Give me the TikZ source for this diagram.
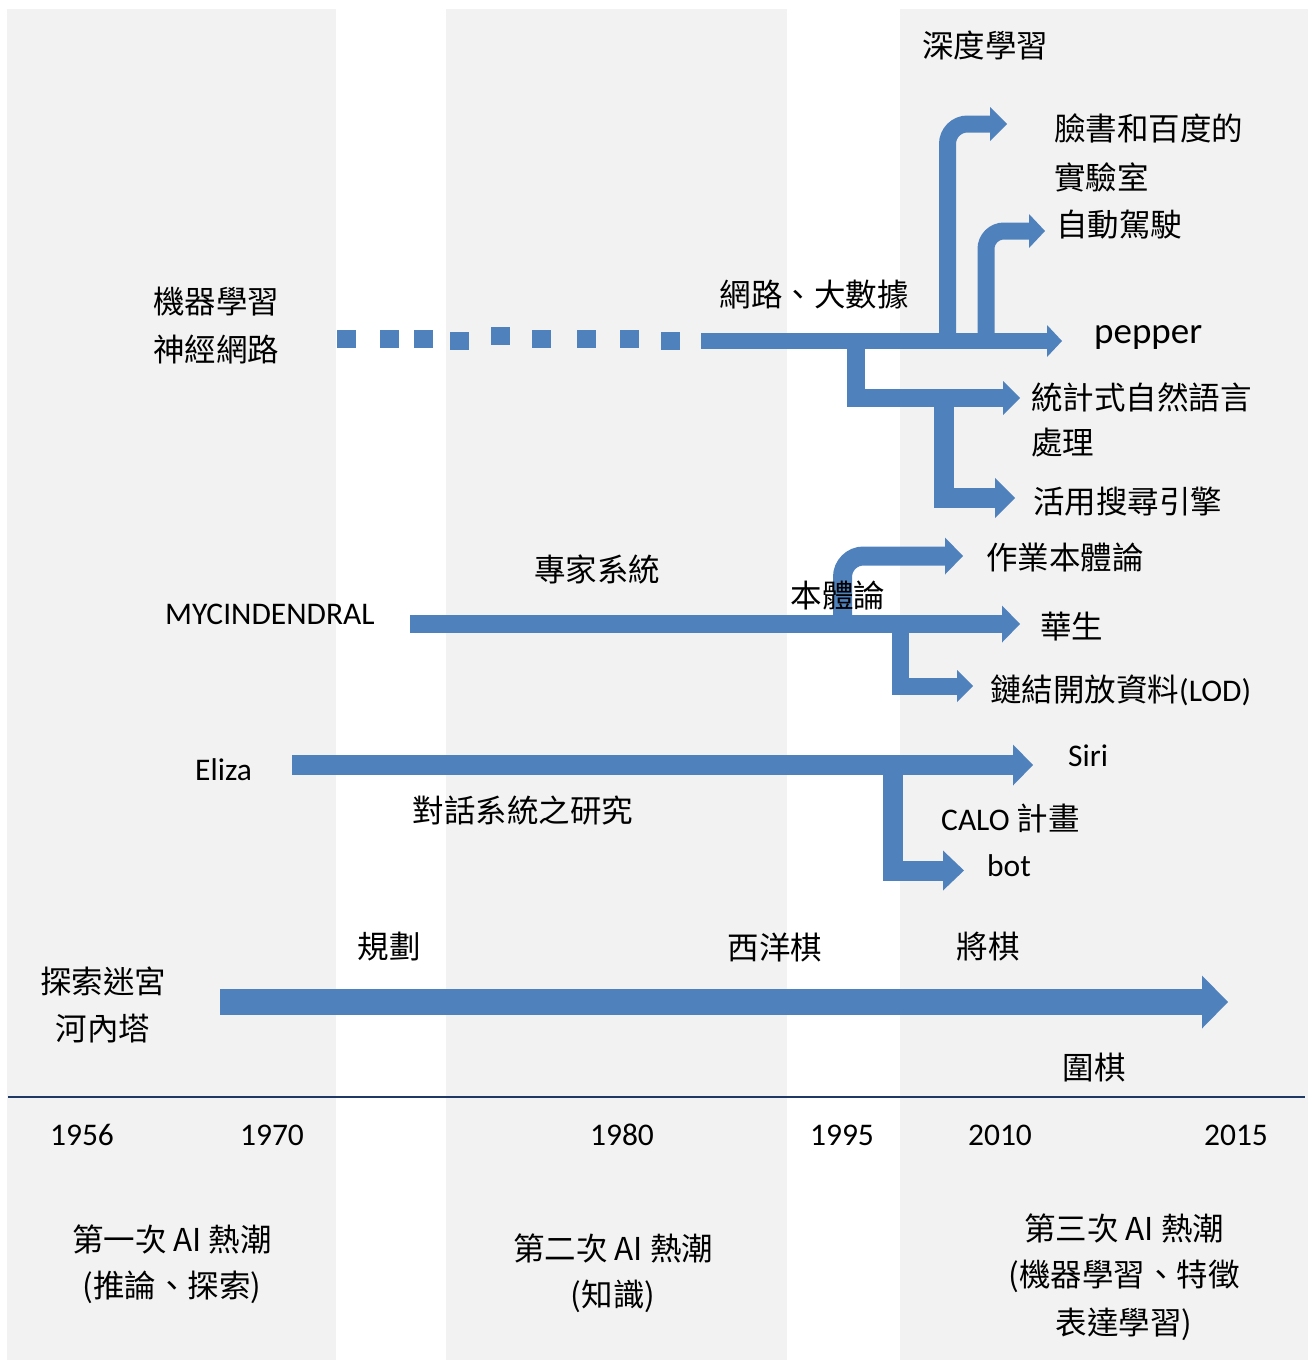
\documentclass[tikz,border=0pt]{standalone}
\usepackage{fontspec}
\setmainfont{Carlito}
\newfontfamily\cjk{Noto Sans CJK TC}
\newfontfamily\lat{Carlito}
\definecolor{barblue}{RGB}{79,129,189}
\definecolor{bandgray}{RGB}{242,242,242}
\definecolor{axisnavy}{RGB}{31,56,100}
\newcommand{\bhead}[4]{\fill[barblue] (#1,#2) ++(0,-#3/2) -- ++(#4,#3/2) -- ++(-#4,#3/2) -- cycle;}
\tikzset{
  shaft/.style={draw=barblue, line width=#1, line cap=butt, line join=miter},
  cjklbl/.style={font=\cjk\fontsize{31.5}{40}\selectfont, inner sep=0pt, text=black},
  latlbl/.style={font=\lat\fontsize{31.5}{40}\selectfont, inner sep=0pt, text=black},
  dotsq/.style={fill=barblue, draw=none}
}
\begin{document}
\begin{tikzpicture}[x=1pt,y=-1pt]
\useasboundingbox (0,0) rectangle (1315,1360);
% background bands
\fill[bandgray] (7,9) rectangle (336,1360);
\fill[bandgray] (446,9) rectangle (787,1360);
\fill[bandgray] (900,9) rectangle (1308,1360);
% axis line
\coordinate (axL) at (8,1097);
\coordinate (axR) at (1305,1097);
\draw[axisnavy, line width=2.5pt] (axL) -- (axR);

% dotted squares
\foreach \x/\y in {337/330,380/330,414/330,450/332,491/327,532/330,577/330,620/330,661/332}
  \fill[dotsq] (\x,\y) rectangle ++(19,18);

% network / deep learning
\coordinate (net0) at (701,341);
\coordinate (net1) at (1048,341);
\draw[shaft=16pt] (net0) -- (net1);
\bhead{1047}{341}{32}{15}
\coordinate (fb0) at (947.5,341);
\coordinate (fb1) at (991,124);
\draw[shaft=17pt, rounded corners=20pt] (fb0) |- (fb1);
\bhead{990}{124}{34}{17}
\coordinate (car0) at (986,341);
\coordinate (car1) at (1030,231);
\draw[shaft=17pt, rounded corners=18pt] (car0) |- (car1);
\bhead{1029}{231}{34}{16}
\coordinate (st0) at (855.5,341);
\coordinate (st1) at (1004,398);
\draw[shaft=18pt] (st0) |- (st1);
\bhead{1003}{398}{34}{17}
\coordinate (se0) at (944,398);
\coordinate (se1) at (996,498);
\draw[shaft=20pt] (se0) |- (se1);
\bhead{995}{498}{40}{20}

% expert systems
\coordinate (ex0) at (410,624);
\coordinate (ex1) at (1003,624);
\draw[shaft=18pt] (ex0) -- (ex1);
\bhead{1002}{624}{37}{18}
\coordinate (on0) at (842.5,624);
\coordinate (on1) at (946,556);
\draw[shaft=19pt, rounded corners=21pt] (on0) |- (on1);
\bhead{945}{556}{37}{18}
\coordinate (ld0) at (900.5,624);
\coordinate (ld1) at (958,686);
\draw[shaft=17pt] (ld0) |- (ld1);
\bhead{957}{686}{32}{16}

% dialogue
\coordinate (el0) at (292,765);
\coordinate (el1) at (1014,765);
\draw[shaft=20pt] (el0) -- (el1);
\bhead{1013}{765}{41}{20}
\coordinate (bt0) at (893,765);
\coordinate (bt1) at (944,870.5);
\draw[shaft=20pt] (bt0) |- (bt1);
\bhead{943}{870.5}{40}{21}

% search / games
\coordinate (gm0) at (220,1002);
\coordinate (gm1) at (1203,1002);
\draw[shaft=26pt] (gm0) -- (gm1);
\bhead{1202}{1002}{53}{26}

% labels
\node[cjklbl] (dl) at (985,45) {深度學習};
\node[cjklbl, anchor=west] (fb) at (1054,128) {臉書和百度的};
\node[cjklbl, anchor=west] (lab) at (1054,177) {實驗室};
\node[cjklbl, anchor=west] (car) at (1056,225) {自動駕駛};
\node[cjklbl] (net) at (814,295) {網路、大數據};
\node[latlbl, anchor=west, font=\lat\fontsize{37}{44}\selectfont] (pep) at (1094,337) {pepper};
\node[cjklbl, anchor=west] (nlp1) at (1031,397) {統計式自然語言};
\node[cjklbl, anchor=west] (nlp2) at (1031,443) {處理};
\node[cjklbl, anchor=west] (srch) at (1033,502) {活用搜尋引擎};
\node[cjklbl, anchor=west] (ml) at (153,302) {機器學習};
\node[cjklbl, anchor=west] (nn) at (153,350) {神經網路};
\node[cjklbl] (es) at (597,569) {專家系統};
\node[latlbl, anchor=west] (myc) at (165,614) {MYCINDENDRAL};
\node[cjklbl] (ont) at (838,596) {本體論};
\node[cjklbl, anchor=west] (wont) at (986,558) {作業本體論};
\node[cjklbl, anchor=west] (wat) at (1040,627) {華生};
\node[cjklbl, anchor=west] (lod) at (990,690) {鏈結開放資料{\lat(LOD)}};
\node[latlbl, anchor=west] (eliza) at (195,770) {Eliza};
\node[latlbl, anchor=west] (siri) at (1068,756) {Siri};
\node[cjklbl] (dlg) at (523,811) {對話系統之研究};
\node[latlbl, anchor=west] (calo) at (941,818) {CALO {\cjk 計畫}};
\node[latlbl, anchor=west] (bot) at (987,866) {bot};
\node[cjklbl] (plan) at (389,947) {規劃};
\node[cjklbl] (chess) at (775,947) {西洋棋};
\node[cjklbl] (shogi) at (988,947) {將棋};
\node[cjklbl] (maze) at (103,981) {探索迷宮};
\node[cjklbl] (hanoi) at (103,1029) {河內塔};
\node[cjklbl] (go) at (1094,1068) {圍棋};
% years
\node[latlbl] (y1) at (82,1135) {1956};
\node[latlbl] (y2) at (272,1135) {1970};
\node[latlbl] (y3) at (622,1135) {1980};
\node[latlbl] (y4) at (842,1135) {1995};
\node[latlbl] (y5) at (1000,1135) {2010};
\node[latlbl] (y6) at (1236,1135) {2015};
% eras
\node[cjklbl] (e1a) at (172,1239) {第一次 AI 熱潮};
\node[cjklbl] (e1b) at (172,1287) {(推論、探索)};
\node[cjklbl] (e2a) at (613,1248) {第二次 AI 熱潮};
\node[cjklbl] (e2b) at (613,1296) {(知識)};
\node[cjklbl] (e3a) at (1124,1228) {第三次 AI 熱潮};
\node[cjklbl] (e3b) at (1124,1276) {(機器學習、特徵};
\node[cjklbl] (e3c) at (1124,1324) {表達學習)};
\end{tikzpicture}
\end{document}
